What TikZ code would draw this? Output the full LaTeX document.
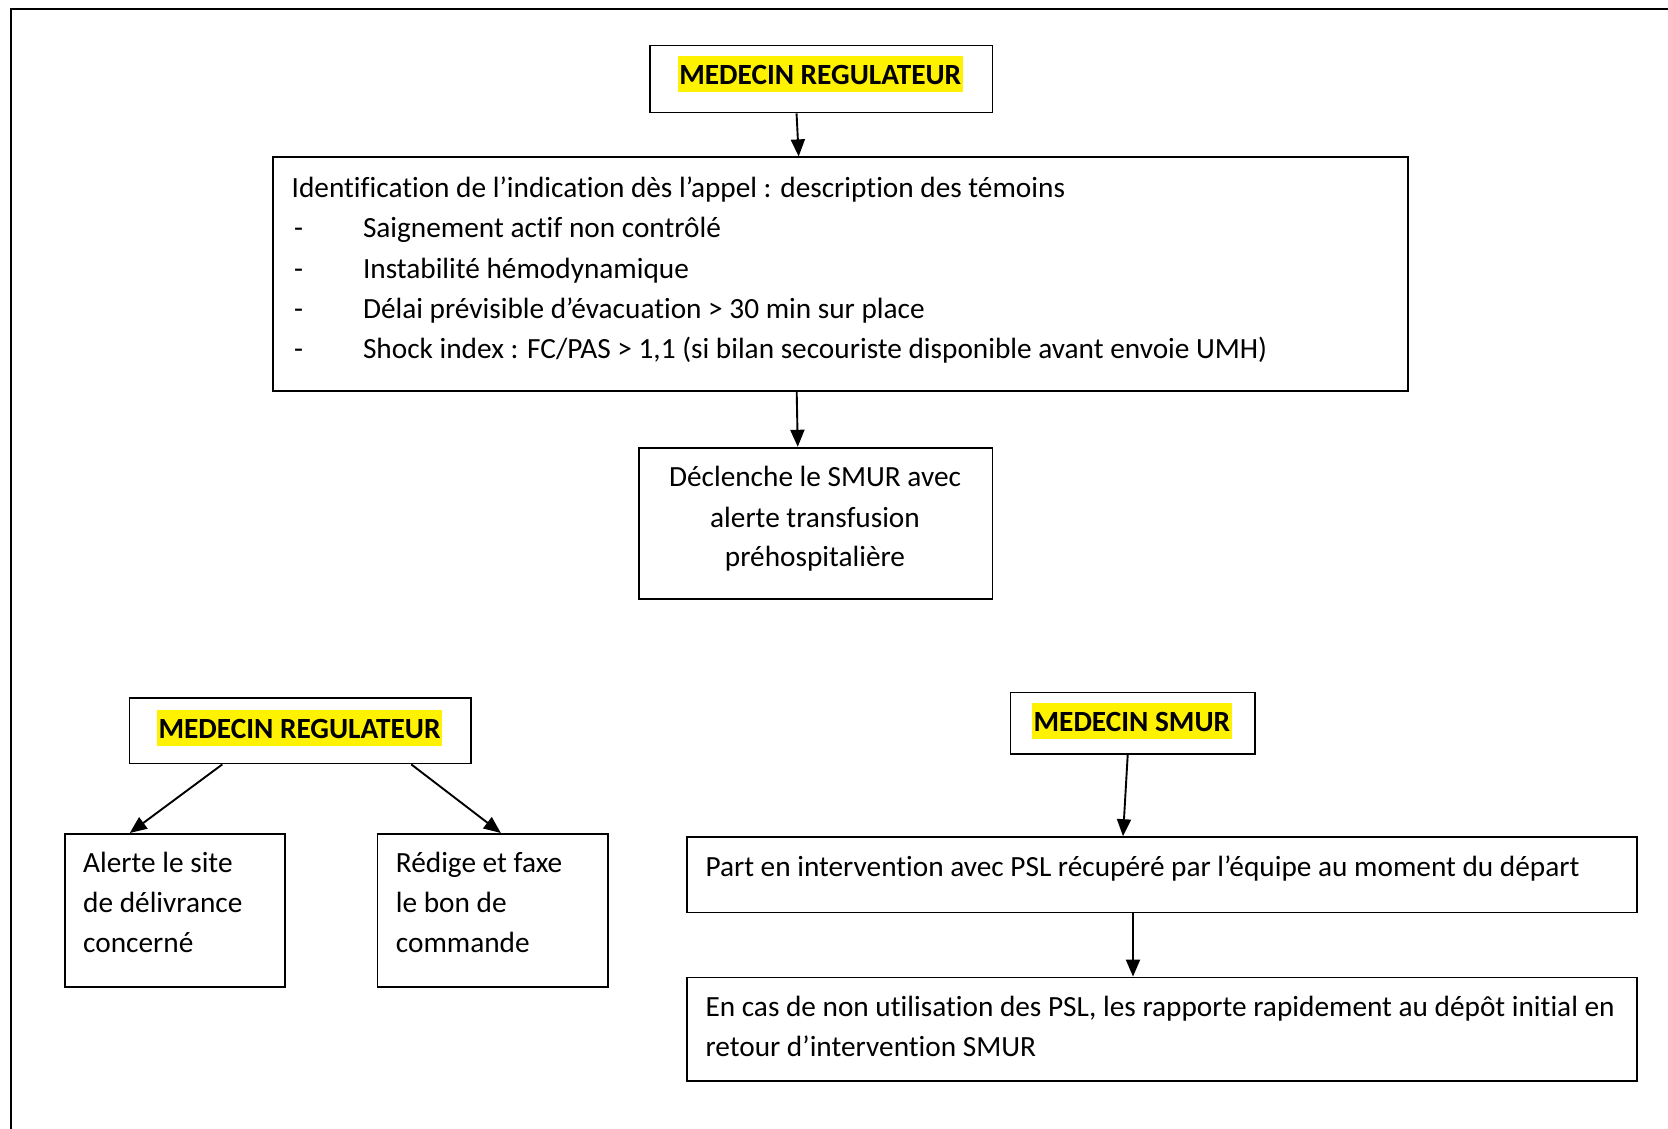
\documentclass[tikz,border=0pt]{standalone}
\usepackage{fontspec}
\setmainfont{Carlito}[Ligatures=NoCommon]
\usetikzlibrary{arrows.meta}
\begin{document}
\begin{tikzpicture}[x=1pt,y=-1pt,
  box/.style={draw,line width=1.7pt,inner sep=0pt,anchor=north west},
  txt/.style={anchor=base west,inner sep=0pt,font=\fontsize{29.3}{35}\selectfont},
  ctxt/.style={anchor=base,inner sep=0pt,font=\fontsize{29.3}{35}\selectfont},
  hl/.style={fill=yellow,inner ysep=0pt,inner xsep=1.5pt,text height=28.5pt,text depth=7.5pt,font=\fontsize{29.3}{35}\selectfont\bfseries,anchor=base},
  arr/.style={line width=1.9pt,-{Triangle[length=17pt,width=14pt]}}]
\useasboundingbox (0,0) rectangle (1668,1129);
% outer frame
\coordinate (frTR) at (1668,9);
\coordinate (frTL) at (11,9);
\coordinate (frBL) at (11,1129);
\draw[line width=2.2pt] (frTR) -- (frTL) -- (frBL);

% boxes
\node[box,minimum width=342.6pt,minimum height=67pt] (top) at (648.9,44.7) {};
\node[box,minimum width=1135.1pt,minimum height=234pt] (big) at (272.3,156.4) {};
\node[box,minimum width=353.2pt,minimum height=151.1pt] (decl) at (638.3,446.8) {};
\node[box,minimum width=341.5pt,minimum height=65.9pt] (reg2) at (128.7,696.8) {};
\node[box,minimum width=220.2pt,minimum height=153.1pt] (alerte) at (63.8,833) {};
\node[box,minimum width=230.8pt,minimum height=153.1pt] (redige) at (376.6,833) {};
\node[box,minimum width=244.7pt,minimum height=61.7pt] (smur) at (1009.5,691.5) {};
\node[box,minimum width=949.9pt,minimum height=75.5pt] (part) at (686.2,836.2) {};
\node[box,minimum width=949.9pt,minimum height=103.2pt] (encas) at (686.2,976.6) {};

% titles
\node[hl] (topT) at (820.2,84.8) {MEDECIN REGULATEUR};
\node[hl] (reg2T) at (299.5,738) {MEDECIN REGULATEUR};
\node[hl] (smurT) at (1131.9,731.6) {MEDECIN SMUR};

% big box text
\node[txt] (b0) at (291.5,197) {Identification de l’indication dès l’appel : description des témoins};
\node[txt] (d1) at (294,237.5) {-};
\node[txt] (d2) at (294,278) {-};
\node[txt] (d3) at (294,318.2) {-};
\node[txt] (d4) at (294,358.6) {-};
\node[txt] (b1) at (362.8,237.5) {Saignement actif non contrôlé};
\node[txt] (b2) at (362.8,278) {Instabilité hémodynamique};
\node[txt] (b3) at (362.8,318.2) {Délai prévisible d’évacuation > 30 min sur place};
\node[txt] (b4) at (362.8,358.6) {Shock index : FC/PAS > 1,1 (si bilan secouriste disponible avant envoie UMH)};

% declenche
\node[ctxt] (c1) at (815,486.6) {Déclenche le SMUR avec};
\node[ctxt] (c2) at (815,527) {alerte transfusion};
\node[ctxt] (c3) at (815,566.4) {préhospitalière};

% alerte
\node[txt] (a1) at (83,872.8) {Alerte le site};
\node[txt] (a2) at (83,912.2) {de délivrance};
\node[txt] (a3) at (83,952.6) {concerné};

% redige
\node[txt] (r1) at (395.7,872.8) {Rédige et faxe};
\node[txt] (r2) at (395.7,912.2) {le bon de};
\node[txt] (r3) at (395.7,952.6) {commande};

% part / en cas
\node[txt] (p1) at (705.3,876) {Part en intervention avec PSL récupéré par l’équipe au moment du départ};
\node[txt] (e1) at (705.3,1016.4) {En cas de non utilisation des PSL, les rapporte rapidement au dépôt initial en};
\node[txt] (e2) at (705.3,1056.9) {retour d’intervention SMUR};

% arrows
\draw[arr] ([xshift=-24.5pt]top.south) -- ([xshift=-42pt]big.north);
\draw[arr] ([xshift=-44pt]big.south) -- ([xshift=-18pt]decl.north);
\draw[arr] ([xshift=-78pt]reg2.south) -- ([xshift=-45pt]alerte.north);
\draw[arr] ([xshift=111pt]reg2.south) -- ([xshift=8pt]redige.north);
\draw[arr] ([xshift=-5pt]smur.south) -- ([xshift=-39pt]part.north);
\draw[arr] ([xshift=-29pt]part.south) -- ([xshift=-29pt]encas.north);
\end{tikzpicture}
\end{document}
